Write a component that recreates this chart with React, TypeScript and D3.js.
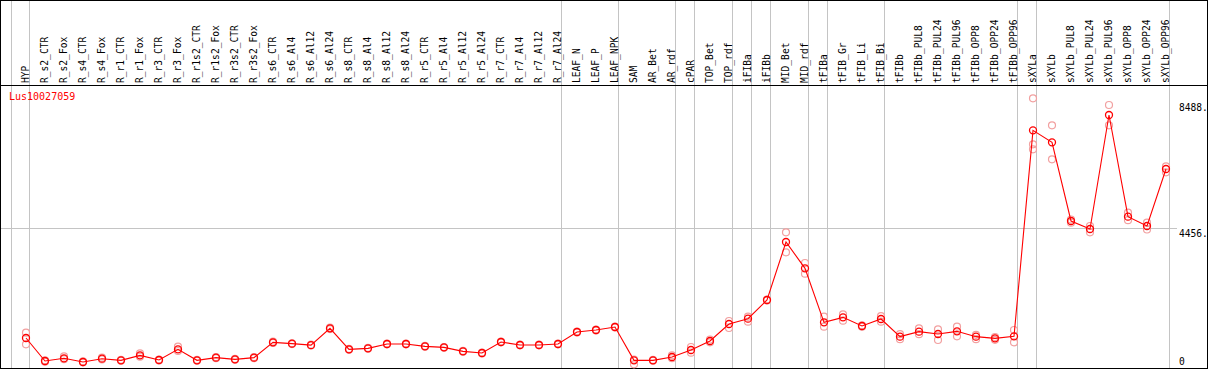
import React from "react";
import * as d3 from "d3";

const categories = [
  "HYP", "R_s2_CTR", "R_s2_Fox", "R_s4_CTR", "R_s4_Fox", "R_r1_CTR", "R_r1_Fox", "R_r3_CTR", "R_r3_Fox",
  "R_r1s2_CTR", "R_r1s2_Fox", "R_r3s2_CTR", "R_r3s2_Fox", "R_s6_CTR", "R_s6_Al4", "R_s6_Al12", "R_s6_Al24",
  "R_s8_CTR", "R_s8_Al4", "R_s8_Al12", "R_s8_Al24", "R_r5_CTR", "R_r5_Al4", "R_r5_Al12", "R_r5_Al24",
  "R_r7_CTR", "R_r7_Al4", "R_r7_Al12", "R_r7_Al24", "LEAF_N", "LEAF_P", "LEAF_NPK", "SAM", "AR_Bet", "AR_rdf",
  "cPAR", "TOP_Bet", "TOP_rdf", "iFIBa", "iFIBb", "MID_Bet", "MID_rdf", "tFIBa", "tFIB_Gr", "tFIB_Li", "tFIB_Bi",
  "tFIBb", "tFIBb_PUL8", "tFIBb_PUL24", "tFIBb_PUL96", "tFIBb_OPP8", "tFIBb_OPP24", "tFIBb_OPP96",
  "sXYLa", "sXYLb", "sXYLb_PUL8", "sXYLb_PUL24", "sXYLb_PUL96", "sXYLb_OPP8", "sXYLb_OPP24", "sXYLb_OPP96",
];

const means = [
  928, 192, 278, 160, 266, 213, 373, 224, 565, 213, 299, 245, 299, 789, 747, 700, 1237,
  565, 597, 736, 736, 661, 629, 501, 448, 800, 704, 704, 736, 1120, 1184, 1280, 213, 213, 320,
  544, 832, 1376, 1547, 2144, 4000, 3157, 1429, 1589, 1312, 1536,
  971, 1131, 1056, 1141, 971, 917, 981,
  7573, 7189, 4672, 4416, 8064, 4811, 4512, 6336,
];

const replicates: number[][] = [
  [1098, 726], [170, 215], [342, 250], [150, 180], [300, 240], [230, 200], [437, 330], [240, 210], [650, 512],
  [230, 200], [320, 280], [260, 230], [320, 280], [810, 770], [760, 735], [715, 690], [1260, 1215],
  [580, 550], [610, 585], [750, 725], [750, 725], [675, 650], [640, 615], [515, 490], [460, 435],
  [815, 790], [715, 695], [715, 695], [750, 725], [1135, 1105], [1200, 1170], [1295, 1265], [240, 85], [225, 200], [370, 280],
  [640, 459], [880, 790], [1472, 1248], [1610, 1450], [2160, 2130], [4309, 3669], [3328, 2987], [1611, 1291], [1685, 1483], [1330, 1290], [1630, 1450],
  [1050, 890], [1237, 1050], [1205, 864], [1291, 981], [1030, 890], [960, 870], [1184, 789],
  [8597, 7125, 6965], [7733, 6645], [4720, 4620], [4512, 4309], [8384, 7733], [4940, 4700], [4620, 4400], [6420, 6230],
];

const yTicks = [0, 4456, 8488];
const gridTick = 4456;
const groupEnds = ["HYP", "R_r7_Al24", "LEAF_NPK", "AR_rdf", "cPAR", "TOP_rdf", "iFIBa", "iFIBb", "MID_rdf", "tFIBa", "tFIB_Bi", "tFIBb_OPP96", "sXYLa", "sXYLb_OPP96"];
const geneLabel = "Lus10027059";

const W = 1209;
const H = 370;
const FONT = "'DejaVu Sans Mono', monospace";

export default function App() {
  const x = d3.scaleBand<string>().domain(categories).range([11, 11 + categories.length * 19]).padding(0);
  const cx = (c: string) => (x(c) as number) + 15;
  const y = d3.scaleLinear().domain([0, 8992]).range([367, 86]);

  const line = d3
    .line<number>()
    .x((_, i) => cx(categories[i]))
    .y((d) => y(d));

  const grid = "#c4c4c4";
  const lightRed = "#f2a0a0";

  return (
    <svg width={W} height={H} style={{ position: "absolute", left: 0, top: 0, background: "#fff" }}>
      {/* vertical group lines */}
      <line x1={11.5} x2={11.5} y1={0} y2={368} stroke={grid} strokeWidth={1} shapeRendering="crispEdges" />
      {groupEnds.map((c) => {
        const xe = Math.round((x(c) as number) + x.bandwidth()) - 0.5;
        return <line key={c} x1={xe} x2={xe} y1={0} y2={368} stroke={grid} strokeWidth={1} shapeRendering="crispEdges" />;
      })}
      {/* horizontal grid */}
      <line x1={1} x2={1177} y1={Math.round(y(gridTick)) + 0.5} y2={Math.round(y(gridTick)) + 0.5} stroke={grid} strokeWidth={1} shapeRendering="crispEdges" />

      {/* frame */}
      <rect x={0.5} y={0.5} width={1207} height={368} fill="none" stroke="#000" strokeWidth={1} shapeRendering="crispEdges" />
      <line x1={0} x2={1208} y1={85.5} y2={85.5} stroke="#000" strokeWidth={1} shapeRendering="crispEdges" />

      {/* column labels */}
      {categories.map((c) => (
        <text
          key={c}
          transform={`translate(${cx(c) - 0.5},83) rotate(-90)`}
          fontFamily={FONT}
          fontSize={9.6}
          dominantBaseline="central"
          textAnchor="start"
          fill="#000"
        >
          {c}
        </text>
      ))}

      {/* gene label */}
      <text x={9} y={100} fontFamily={FONT} fontSize={10} fill="#ff0000">
        {geneLabel}
      </text>

      {/* y tick labels */}
      {yTicks.map((t) => (
        <text
          key={t}
          x={1179}
          y={t === 0 ? 365 : y(t) + 9.5}
          fontFamily={FONT}
          fontSize={9.6}
          fill="#000"
        >
          {t === 0 ? "0" : `${t}.`}
        </text>
      ))}

      {/* replicates */}
      {replicates.map((reps, i) =>
        reps.map((v, j) => (
          <circle key={`${i}-${j}`} cx={cx(categories[i])} cy={y(v)} r={3.5} fill="none" stroke={lightRed} strokeWidth={1.2} />
        ))
      )}

      {/* mean line */}
      <path d={line(means) as string} fill="none" stroke="#ff0000" strokeWidth={1.1} />
      {means.map((v, i) => (
        <circle key={i} cx={cx(categories[i])} cy={y(v)} r={3.5} fill="none" stroke="#ff0000" strokeWidth={1.3} />
      ))}
    </svg>
  );
}
